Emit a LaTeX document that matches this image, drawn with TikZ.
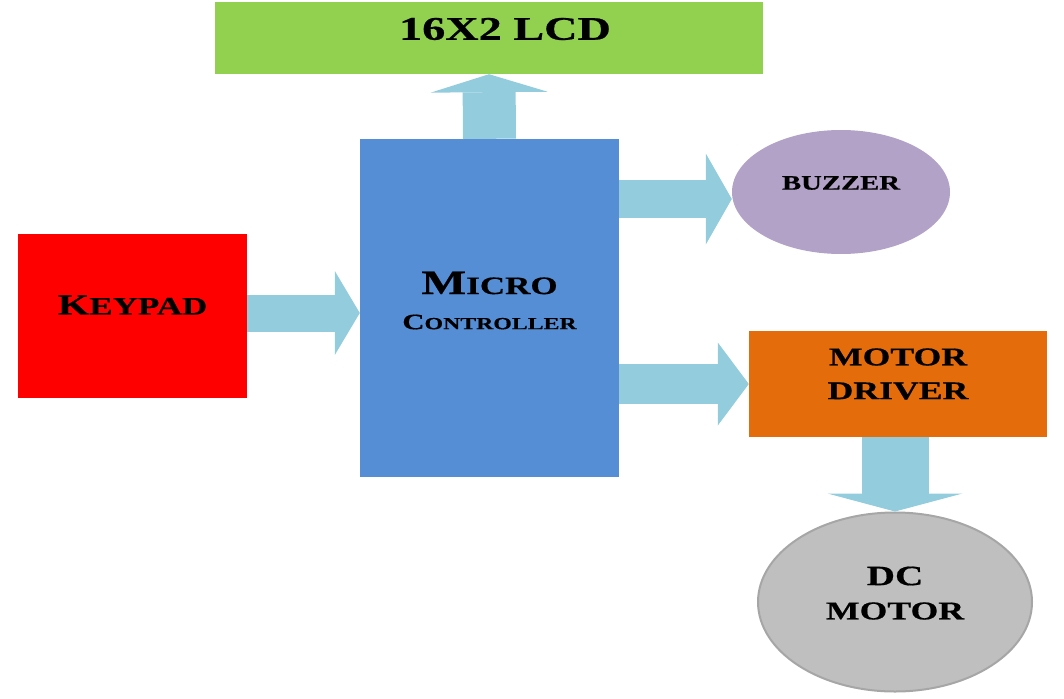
\documentclass[tikz,border=0pt]{standalone}
\usepackage{fontspec}
\newfontfamily\tnr{Liberation Serif}[FakeStretch=1.4,FakeBold=0.6]
\usetikzlibrary{shapes.geometric,arrows.meta}
\definecolor{lcdc}{HTML}{92D050}
\definecolor{mcuc}{HTML}{558ED5}
\definecolor{kpc}{HTML}{FF0000}
\definecolor{bzc}{HTML}{B3A2C7}
\definecolor{mdc}{HTML}{E46C0A}
\definecolor{dcc}{HTML}{BFBFBF}
\definecolor{dcb}{HTML}{A6A6A6}
\definecolor{arrc}{HTML}{93CDDD}
\newcommand{\fs}[1]{\fontsize{#1}{#1}\selectfont}
\begin{document}
\begin{tikzpicture}[x=1pt,y=-1pt,
  box/.style={rectangle,inner sep=0pt,draw=none},
  oval/.style={ellipse,inner sep=0pt},
  lbl/.style={inner sep=0pt,font=\tnr\bfseries,text=black},
  fat/.style n args={3}{draw=arrc,line width=#1,-{Triangle[length=#2,width=#3,line width=0pt]}}]
\useasboundingbox (0,0) rectangle (1064,698);
% blocks
\node[box,fill=lcdc,minimum width=548pt,minimum height=72pt,
  label={[lbl,xshift=16pt,yshift=9pt]center:{\fs{33}16X2 LCD}}] (lcd) at (489,38) {};
\node[box,fill=mcuc,minimum width=259pt,minimum height=338pt,
  label={[lbl,yshift=25pt]center:{\fs{34}M\fs{25}ICRO}},
  label={[lbl,yshift=-14pt]center:{\fs{22}C\fs{17}ONTROLLER}}] (mcu) at (489.5,308) {};
\node[box,fill=kpc,minimum width=229pt,minimum height=164pt,
  label={[lbl,yshift=11pt]center:{\fs{29}K\fs{25}EYPAD}}] (kp) at (132.5,316) {};
\node[oval,fill=bzc,minimum width=218pt,minimum height=124pt,
  label={[lbl,yshift=9pt]center:{\fs{20.5}BUZZER}}] (bz) at (841,192) {};
\node[box,fill=mdc,minimum width=298pt,minimum height=106pt,
  label={[lbl,yshift=27pt]center:{\fs{25.5}MOTOR}},
  label={[lbl,yshift=-7pt]center:{\fs{25.5}DRIVER}}] (md) at (898,384) {};
\node[oval,fill=dcc,draw=dcb,line width=2pt,minimum width=274pt,minimum height=179pt,
  label={[lbl,yshift=26pt]center:{\fs{28}DC}},
  label={[lbl,yshift=-9pt]center:{\fs{25.5}MOTOR}}] (dc) at (895,602) {};
% connectors
\path ([yshift=3pt]kp.east) coordinate (kpout);
\path ([yshift=-7pt]bz.west) coordinate (bzin);
\draw[fat={53pt}{18pt}{117pt}] (mcu.north) -- (lcd.south);
\draw[fat={37pt}{25pt}{84pt}] (kpout) -- (mcu.west |- kpout);
\draw[fat={38pt}{26pt}{91pt}] (mcu.east |- bzin) -- (bzin);
\draw[fat={40pt}{31pt}{83pt}] (mcu.east |- md.west) -- (md.west);
\draw[fat={67pt}{18pt}{135pt}] (md.south -| dc.north) -- (dc.north);
\end{tikzpicture}
\end{document}
